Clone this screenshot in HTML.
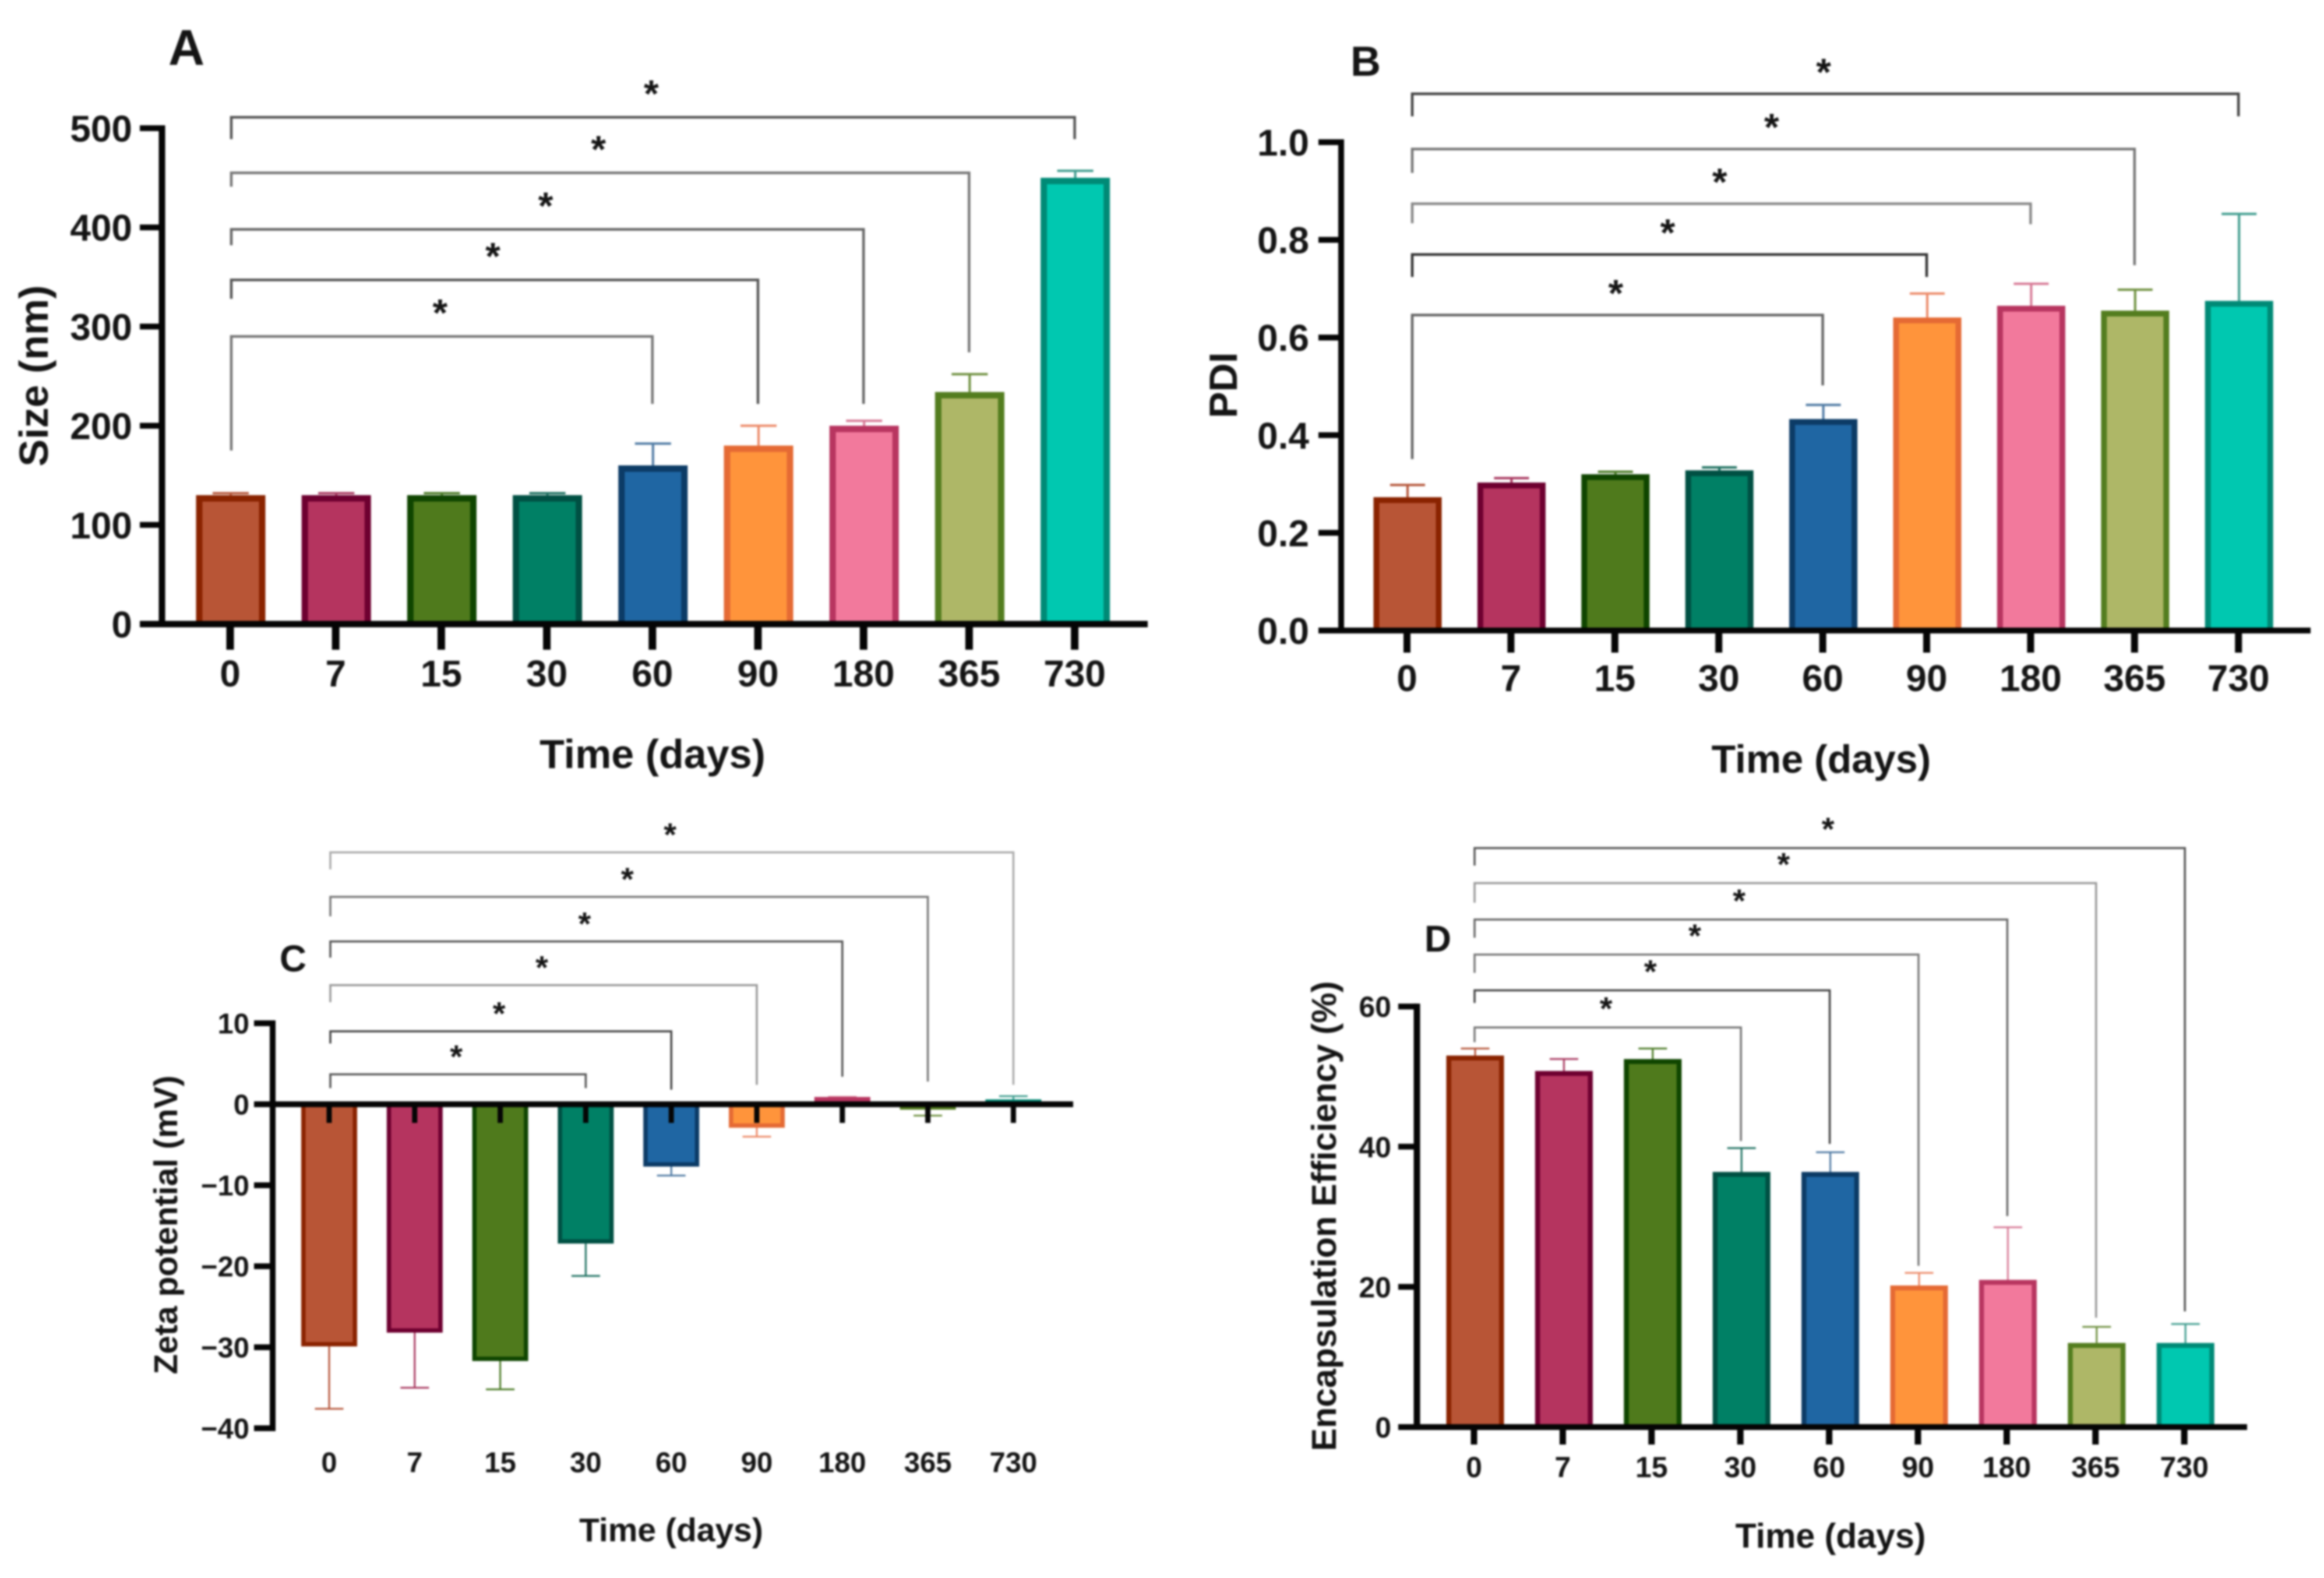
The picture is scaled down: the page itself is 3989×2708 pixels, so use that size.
<!DOCTYPE html>
<html lang="en">
<head>
<meta charset="utf-8">
<title>Nanoparticle stability over time</title>
<style>
html,body{margin:0;padding:0;background:#fff;}
body{width:3989px;height:2708px;overflow:hidden;}
svg{display:block;filter:blur(1.5px);}
text{font-family:"Liberation Sans",Arial,sans-serif;font-weight:bold;fill:#141414;}
</style>
</head>
<body>
<svg id="figure" xmlns="http://www.w3.org/2000/svg" width="3989" height="2708" viewBox="0 0 3989 2708">
  <rect x="0" y="0" width="3989" height="2708" fill="#ffffff"/>
  <g id="panel-a"></g>
  <g id="panel-b"></g>
  <g id="panel-c"></g>
  <g id="panel-d"></g>
</svg>
<script>
// Shared categories
const categories = ['0','7','15','30','60','90','180','365','730'];

// Panel A: size (nm)
const sizeValues = [130,130,130,130,160,180,200,234,450];
const sizeErrors = [132,132,132,132,182,200,205,252,457];
const sizeTicks = [0,100,200,300,400,500];
const sizeTickLabels = ['0','100','200','300','400','500'];
const sizeBracketTargets = [4,5,6,7,8];
const sizeBracketTops = [290,347,398,455,511];
const sizeBracketLeftEnds = [175,328,382,441,489];
const sizeBracketRightEnds = [222,222,222,274,489];

// Panel B: PDI
const pdiValues = [0.273,0.303,0.32,0.328,0.433,0.641,0.665,0.655,0.675];
const pdiErrors = [0.298,0.312,0.325,0.334,0.462,0.69,0.71,0.698,0.853];
const pdiTicks = [0,0.2,0.4,0.6,0.8,1];
const pdiTickLabels = ['0.0','0.2','0.4','0.6','0.8','1.0'];
const pdiBracketTargets = [4,5,6,7,8];
const pdiBracketTops = [0.646,0.770,0.874,0.986,1.099];
const pdiBracketLeftEnds = [0.351,0.724,0.834,0.937,1.053];
const pdiBracketRightEnds = [0.502,0.724,0.832,0.748,1.053];

// Panel C: zeta potential (mV)
const zetaValues = [-29.9,-28.2,-31.7,-17.2,-7.7,-2.9,0.9,-0.4,0.6];
const zetaErrors = [-37.6,-35,-35.2,-21.2,-8.8,-4,0.9,-1.4,1.0];
const zetaTicks = [-40,-30,-20,-10,0,10];
const zetaTickLabels = ['\u221240','\u221230','\u221220','\u221210','0','10'];
const zetaBracketTargets = [3,4,5,6,7,8];
const zetaBracketTops = [3.7,9.0,14.7,20.1,25.6,31.1];
const zetaBracketLeftEnds = [2.0,7.5,12.6,18.1,23.2,29.0];
const zetaBracketRightEnds = [2.0,1.8,2.4,3.4,2.8,2.4];

// Panel D: encapsulation efficiency (%)
const eeValues = [53,50.8,52.5,36.4,36.4,20.2,21,12,12];
const eeErrors = [54,52.5,54,39.8,39.2,22,28.5,14.3,14.7];
const eeTicks = [0,20,40,60];
const eeTickLabels = ['0','20','40','60'];
const eeBracketTargets = [3,4,5,6,7,8];
const eeBracketTops = [57.0,62.3,67.4,72.4,77.6,82.6];
const eeBracketLeftEnds = [54.9,60.5,64.8,69.8,74.8,80.1];
const eeBracketRightEnds = [40.8,40.4,23.0,30.1,15.6,16.5];

// Styles
const barFills = ['#b85536','#b5345f','#4f7a1c','#008065','#1f66a3','#ff943b','#f2799c','#aeb767','#00c8b0'];
const barStrokes = ['#8a2300','#6e0030','#0f4500','#005043','#0c3b66','#e56a34','#b83560','#537d1f','#008a76'];
const errorColors = ['#b5563a','#a8385f','#4a7a25','#1c6f5f','#4f7aa3','#ec8a68','#d77a96','#6f9040','#3f9c8e'];

const SVG_NS = 'http://www.w3.org/2000/svg';

function make(tag, parent) {
  const el = document.createElementNS(SVG_NS, tag);
  parent.appendChild(el);
  return el;
}
function setGeom(el, props) {
  Object.keys(props).forEach(function (k) { el.setAttribute(k, props[k]); });
}

function drawPanel(cfg) {
  const root = document.getElementById(cfg.id);
  const xAt = function (i) { return cfg.x0 + i * cfg.dx; };
  const yAt = function (v) { return cfg.zeroY - v * cfg.pxPerUnit; };
  const y0 = yAt(0);

  // Error bars (behind the bars)
  cfg.values.forEach(function (v, i) {
    const c = xAt(i) + cfg.barShift;
    const stem = make('line', root);
    
    
    setGeom(stem, {x1: c, x2: c, y1: yAt(v), y2: yAt(cfg.errors[i]), stroke: errorColors[i], 'stroke-width': cfg.errW});
    const cap = make('line', root);
    
    
    setGeom(cap, {x1: c - cfg.capW / 2, x2: c + cfg.capW / 2, y1: yAt(cfg.errors[i]), y2: yAt(cfg.errors[i]), stroke: errorColors[i], 'stroke-width': cfg.errW});
  });

  // Bars
  cfg.values.forEach(function (v, i) {
    const c = xAt(i) + cfg.barShift;
    const s = cfg.barStroke;
    const yv = yAt(v);
    const abs = Math.abs(yv - y0);
    const inset = abs > s ? s / 2 : 0;
    const edge = v >= 0 ? yv + inset : yv - inset;
    const bar = make('rect', root);
    
    
    setGeom(bar, {
      x: c - cfg.barW / 2 + s / 2,
      y: Math.min(edge, y0),
      width: cfg.barW - s,
      height: Math.max(Math.abs(edge - y0), 0.1),
      fill: barFills[i],
      stroke: barStrokes[i],
      'stroke-width': s
    });
  });

  // Axes
  const yAxis = make('line', root);
  
  
  const tMin = Math.min.apply(null, cfg.ticks);
  const tMax = Math.max.apply(null, cfg.ticks);
  setGeom(yAxis, {x1: cfg.axisX, x2: cfg.axisX, y1: yAt(tMax) - cfg.yTickW / 2, y2: yAt(tMin) + cfg.yTickW / 2, stroke: '#050505', 'stroke-width': cfg.axisW});

  const xAxis = make('line', root);
  
  
  setGeom(xAxis, {x1: cfg.tickLeft, x2: cfg.xEnd, y1: y0, y2: y0, stroke: '#050505', 'stroke-width': cfg.hAxisW});

  // Y ticks and labels
  cfg.ticks.forEach(function (t, i) {
    const tick = make('line', root);
    
    
    setGeom(tick, {x1: cfg.tickLeft, x2: cfg.axisX, y1: yAt(t), y2: yAt(t), stroke: '#050505', 'stroke-width': cfg.yTickW});
    const label = make('text', root);
    
    
    setGeom(label, {x: cfg.yLabelRight, y: yAt(t) + cfg.tickFont * 0.36, 'text-anchor': 'end', 'font-size': cfg.tickFont});
    label.textContent = cfg.tickLabels[i];
  });

  // X ticks and labels
  categories.forEach(function (cat, i) {
    const tick = make('line', root);
    
    
    setGeom(tick, {x1: xAt(i), x2: xAt(i), y1: y0, y2: y0 + cfg.xTickLen, stroke: '#050505', 'stroke-width': cfg.xTickW});
    const label = make('text', root);
    
    
    setGeom(label, {x: xAt(i), y: cfg.xLabelY + cfg.xFont * 0.36, 'text-anchor': 'middle', 'font-size': cfg.xFont});
    label.textContent = cat;
  });

  // Significance brackets
  cfg.bracketTargets.forEach(function (target, i) {
    const left = xAt(0) + cfg.bracketLeftShift;
    const right = xAt(target) + cfg.bracketRightShift;
    const top = yAt(cfg.bracketTops[i]);
    const path = make('path', root);
    
    
    setGeom(path, {
      d: 'M' + left + ' ' + yAt(cfg.bracketLeftEnds[i]) + 'V' + top + 'H' + right + 'V' + yAt(cfg.bracketRightEnds[i]),
      fill: 'none',
      stroke: cfg.bracketColors[i],
      'stroke-width': cfg.bracketW
    });
    const star = make('text', root);
    
    
    setGeom(star, {x: (left + right) / 2 - 3, y: top - cfg.starGap + cfg.starFont * 0.55, 'text-anchor': 'middle', 'font-size': cfg.starFont});
    star.textContent = '*';
  });

  // Axis titles
  const xTitle = make('text', root);
  
  
  setGeom(xTitle, {x: cfg.xTitleX, y: cfg.xTitleY, 'text-anchor': 'middle', 'font-size': cfg.xTitleFont});
  xTitle.textContent = 'Time (days)';

  const yTitle = make('text', root);
  
  
  setGeom(yTitle, {
    'text-anchor': 'middle',
    'font-size': cfg.yTitleFont,
    transform: 'translate(' + cfg.yTitleX + ' ' + cfg.yTitleY + ') rotate(-90)'
  });
  yTitle.textContent = cfg.yTitle;

  // Panel letter
  const letter = make('text', root);
  
  
  setGeom(letter, {x: cfg.letterX, y: cfg.letterY + cfg.letterFont * 0.36, 'text-anchor': 'middle', 'font-size': cfg.letterFont});
  letter.textContent = cfg.letter;
}

drawPanel({
  id: 'panel-a', letter: 'A', letterX: 320, letterY: 80, letterFont: 86,
  values: sizeValues, errors: sizeErrors, ticks: sizeTicks, tickLabels: sizeTickLabels,
  bracketTargets: sizeBracketTargets, bracketTops: sizeBracketTops,
  bracketLeftEnds: sizeBracketLeftEnds, bracketRightEnds: sizeBracketRightEnds,
  bracketColors: ['#777','#555','#666','#777','#555'],
  x0: 395, dx: 181.2, barShift: 1, bracketShift: 0, bracketLeftShift: 2, bracketRightShift: 0, zeroY: 1071, pxPerUnit: 1.702,
  axisX: 278, axisW: 11, hAxisW: 11, tickLeft: 240, xEnd: 1970, yTickW: 10, xTickW: 13, xTickLen: 44,
  barW: 119, barStroke: 11, capW: 62, errW: 4, bracketW: 4.5,
  yLabelRight: 227, tickFont: 64, xLabelY: 1155, xFont: 64,
  starFont: 66, starGap: 54,
  xTitleX: 1120, xTitleY: 1318, xTitleFont: 70,
  yTitle: 'Size (nm)', yTitleX: 82, yTitleY: 645, yTitleFont: 70
});

drawPanel({
  id: 'panel-b', letter: 'B', letterX: 2344, letterY: 104, letterFont: 72,
  values: pdiValues, errors: pdiErrors, ticks: pdiTicks, tickLabels: pdiTickLabels,
  bracketTargets: pdiBracketTargets, bracketTops: pdiBracketTops,
  bracketLeftEnds: pdiBracketLeftEnds, bracketRightEnds: pdiBracketRightEnds,
  bracketColors: ['#666','#333','#888','#777','#444'],
  x0: 2415, dx: 178.4, barShift: 1, bracketLeftShift: 9, bracketRightShift: 0, zeroY: 1082, pxPerUnit: 838,
  axisX: 2302, axisW: 10, hAxisW: 10, tickLeft: 2263, xEnd: 3966, yTickW: 10, xTickW: 12, xTickLen: 38,
  barW: 117, barStroke: 10, capW: 60, errW: 4, bracketW: 4.5,
  yLabelRight: 2247, tickFont: 64, xLabelY: 1163, xFont: 64,
  starFont: 66, starGap: 51,
  xTitleX: 3126, xTitleY: 1326, xTitleFont: 68,
  yTitle: 'PDI', yTitleX: 2123, yTitleY: 661, yTitleFont: 68
});

drawPanel({
  id: 'panel-c', letter: 'C', letterX: 503, letterY: 1644, letterFont: 64,
  values: zetaValues, errors: zetaErrors, ticks: zetaTicks, tickLabels: zetaTickLabels,
  bracketTargets: zetaBracketTargets, bracketTops: zetaBracketTops,
  bracketLeftEnds: zetaBracketLeftEnds, bracketRightEnds: zetaBracketRightEnds,
  bracketColors: ['#555','#444','#999','#555','#777','#aaa'],
  x0: 565, dx: 146.8, barShift: 0, bracketLeftShift: 2, bracketRightShift: 0, zeroY: 1895, pxPerUnit: 13.9,
  axisX: 468, axisW: 10, hAxisW: 10, tickLeft: 436, xEnd: 1842, yTickW: 10, xTickW: 9, xTickLen: 32,
  barW: 96, barStroke: 7.5, capW: 49, errW: 3, bracketW: 3.5,
  yLabelRight: 428, tickFont: 49, xLabelY: 2509, xFont: 49,
  starFont: 56, starGap: 42,
  xTitleX: 1152, xTitleY: 2645, xTitleFont: 57,
  yTitle: 'Zeta potential (mV)', yTitleX: 304, yTitleY: 2102, yTitleFont: 57
});

drawPanel({
  id: 'panel-d', letter: 'D', letterX: 2468, letterY: 1610, letterFont: 64,
  values: eeValues, errors: eeErrors, ticks: eeTicks, tickLabels: eeTickLabels,
  bracketTargets: eeBracketTargets, bracketTops: eeBracketTops,
  bracketLeftEnds: eeBracketLeftEnds, bracketRightEnds: eeBracketRightEnds,
  bracketColors: ['#777','#444','#777','#666','#999','#555'],
  x0: 2530, dx: 152.4, barShift: 2, bracketLeftShift: 1, bracketRightShift: 1, zeroY: 2449, pxPerUnit: 12.03,
  axisX: 2432, axisW: 11, hAxisW: 10, tickLeft: 2400, xEnd: 3857, yTickW: 10, xTickW: 11, xTickLen: 30,
  barW: 99, barStroke: 8.5, capW: 49, errW: 3, bracketW: 3.5,
  yLabelRight: 2388, tickFont: 50, xLabelY: 2517, xFont: 50,
  starFont: 56, starGap: 44,
  xTitleX: 3142, xTitleY: 2656, xTitleFont: 59,
  yTitle: 'Encapsulation Efficiency (%)', yTitleX: 2293, yTitleY: 2087, yTitleFont: 59
});
</script>
</body>
</html>
